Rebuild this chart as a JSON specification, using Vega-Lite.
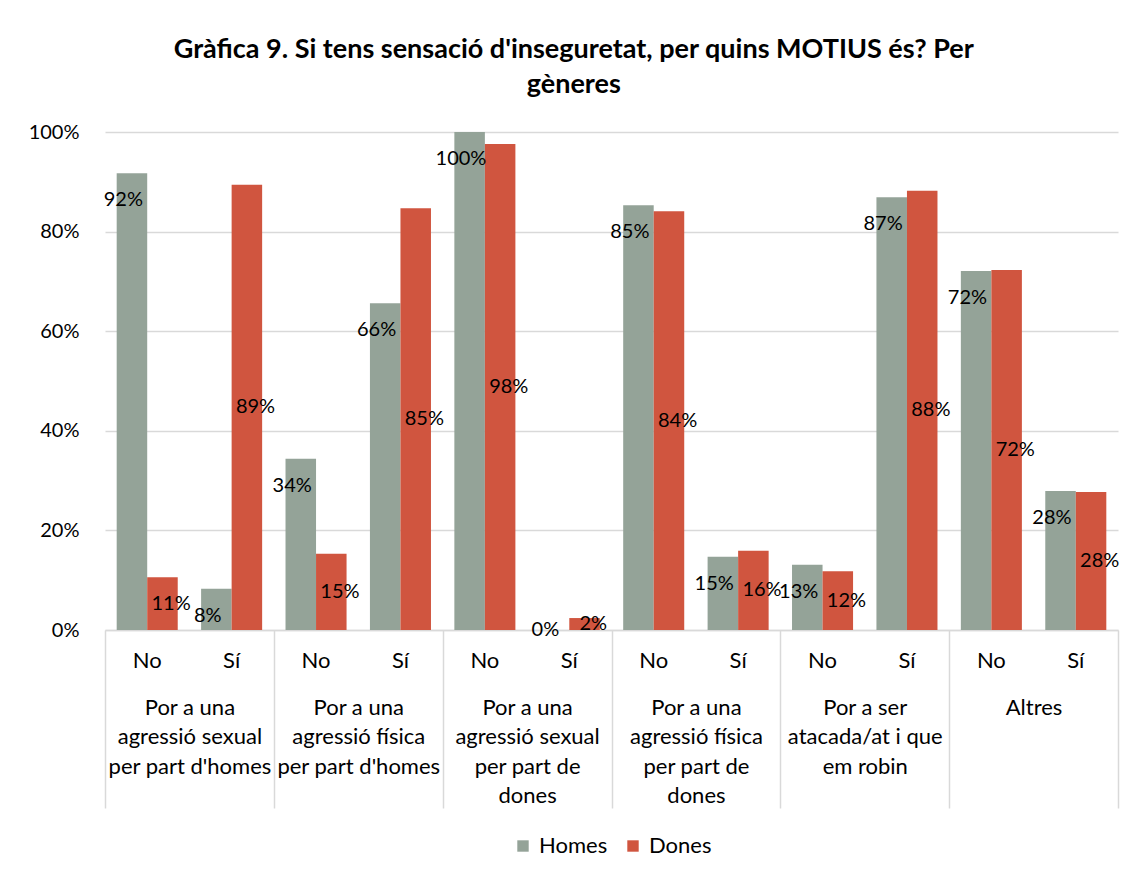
{
  "$schema": "https://vega.github.io/schema/vega-lite/v6.json",
  "width": 1013,
  "height": 498,
  "padding": {"left": 28, "top": 36, "right": 20, "bottom": 10},
  "config": {
    "font": "Lato",
    "view": {"stroke": null},
    "axis": {"labelFont": "Lato", "labelColor": "#000000", "labelFontSize": 22},
    "legend": {"layout": {"bottom": {"anchor": "middle"}}}
  },
  "title": {
    "text": ["Gràfica 9. Si tens sensació d'inseguretat, per quins MOTIUS és? Per", "gèneres"],
    "font": "Lato",
    "fontSize": 27,
    "fontWeight": "bold",
    "color": "#000000",
    "lineHeight": 35,
    "anchor": "middle",
    "frame": "bounds",
    "offset": 23
  },
  "data": {
    "values": [
      {"grup": "Por a una|agressió sexual|per part d'homes", "clau": "1 No", "genere": "Homes", "valor": 0.917},
      {"grup": "Por a una|agressió sexual|per part d'homes", "clau": "1 No", "genere": "Dones", "valor": 0.106},
      {"grup": "Por a una|agressió sexual|per part d'homes", "clau": "1 Sí", "genere": "Homes", "valor": 0.083},
      {"grup": "Por a una|agressió sexual|per part d'homes", "clau": "1 Sí", "genere": "Dones", "valor": 0.894},
      {"grup": "Por a una|agressió física|per part d'homes", "clau": "2 No", "genere": "Homes", "valor": 0.344},
      {"grup": "Por a una|agressió física|per part d'homes", "clau": "2 No", "genere": "Dones", "valor": 0.153},
      {"grup": "Por a una|agressió física|per part d'homes", "clau": "2 Sí", "genere": "Homes", "valor": 0.656},
      {"grup": "Por a una|agressió física|per part d'homes", "clau": "2 Sí", "genere": "Dones", "valor": 0.847},
      {"grup": "Por a una|agressió sexual|per part de|dones", "clau": "3 No", "genere": "Homes", "valor": 1.0},
      {"grup": "Por a una|agressió sexual|per part de|dones", "clau": "3 No", "genere": "Dones", "valor": 0.976},
      {"grup": "Por a una|agressió sexual|per part de|dones", "clau": "3 Sí", "genere": "Homes", "valor": 0.0},
      {"grup": "Por a una|agressió sexual|per part de|dones", "clau": "3 Sí", "genere": "Dones", "valor": 0.024},
      {"grup": "Por a una|agressió física|per part de|dones", "clau": "4 No", "genere": "Homes", "valor": 0.853},
      {"grup": "Por a una|agressió física|per part de|dones", "clau": "4 No", "genere": "Dones", "valor": 0.841},
      {"grup": "Por a una|agressió física|per part de|dones", "clau": "4 Sí", "genere": "Homes", "valor": 0.147},
      {"grup": "Por a una|agressió física|per part de|dones", "clau": "4 Sí", "genere": "Dones", "valor": 0.159},
      {"grup": "Por a ser|atacada/at i que|em robin", "clau": "5 No", "genere": "Homes", "valor": 0.131},
      {"grup": "Por a ser|atacada/at i que|em robin", "clau": "5 No", "genere": "Dones", "valor": 0.118},
      {"grup": "Por a ser|atacada/at i que|em robin", "clau": "5 Sí", "genere": "Homes", "valor": 0.869},
      {"grup": "Por a ser|atacada/at i que|em robin", "clau": "5 Sí", "genere": "Dones", "valor": 0.882},
      {"grup": "Altres", "clau": "6 No", "genere": "Homes", "valor": 0.721},
      {"grup": "Altres", "clau": "6 No", "genere": "Dones", "valor": 0.723},
      {"grup": "Altres", "clau": "6 Sí", "genere": "Homes", "valor": 0.279},
      {"grup": "Altres", "clau": "6 Sí", "genere": "Dones", "valor": 0.277}
    ]
  },
  "layer": [
    {
      "mark": {"type": "bar"},
      "encoding": {
        "x": {
          "field": "clau", "type": "nominal",
          "scale": {"paddingInner": 0, "paddingOuter": 0},
          "axis": {
            "orient": "bottom", "title": null, "labelAngle": 0,
            "labelExpr": "split(datum.label, ' ')[1]",
            "ticks": false, "domain": true, "domainColor": "#d9d9d9", "domainWidth": 1.5,
            "labelPadding": 20, "labelFontSize": 22
          }
        },
        "xOffset": {
          "field": "genere", "type": "nominal",
          "scale": {"domain": ["Homes", "Dones"], "paddingOuter": 0.383, "paddingInner": 0}
        },
        "y": {
          "field": "valor", "type": "quantitative",
          "scale": {"domain": [0, 1], "nice": false},
          "axis": {
            "title": null, "format": ".0%", "values": [0, 0.2, 0.4, 0.6, 0.8, 1],
            "grid": true, "gridColor": "#d9d9d9", "gridWidth": 1.5,
            "domain": false, "ticks": false, "labelPadding": 26, "labelFontSize": 20
          }
        },
        "color": {
          "field": "genere", "type": "nominal",
          "scale": {"domain": ["Homes", "Dones"], "range": ["#94a398", "#d0553f"]},
          "legend": {
            "title": null, "orient": "bottom", "direction": "horizontal",
            "symbolType": "square", "symbolSize": 130, "symbolStrokeWidth": 0,
            "labelFontSize": 22, "labelFont": "Lato", "labelColor": "#000000",
            "columnPadding": 14, "labelOffset": 5, "offset": 26
          }
        }
      }
    },
    {
      "transform": [{"filter": "datum.genere == 'Homes'"}],
      "mark": {"type": "text", "fontSize": 20, "font": "Lato", "color": "#000000", "baseline": "middle"},
      "encoding": {
        "x": {"field": "clau", "type": "nominal", "scale": {"paddingInner": 0, "paddingOuter": 0}, "axis": null},
        "xOffset": {
          "field": "genere", "type": "nominal",
          "scale": {"domain": ["Homes", "Dones"], "paddingOuter": 0.383, "paddingInner": 0}
        },
        "y": {"field": "valor", "type": "quantitative", "scale": {"domain": [0.054, 1.054], "nice": false, "clamp": true}, "axis": null},
        "text": {"field": "valor", "type": "quantitative", "format": ".0%"}
      }
    },
    {
      "transform": [{"filter": "datum.genere == 'Dones'"}],
      "mark": {"type": "text", "fontSize": 20, "font": "Lato", "color": "#000000", "baseline": "middle"},
      "encoding": {
        "x": {"field": "clau", "type": "nominal", "scale": {"paddingInner": 0, "paddingOuter": 0}, "axis": null},
        "xOffset": {
          "field": "genere", "type": "nominal",
          "scale": {"domain": ["Homes", "Dones"], "paddingOuter": 0.383, "paddingInner": 0}
        },
        "y": {"field": "valor", "type": "quantitative", "scale": {"domain": [0, 2], "nice": false}, "axis": null},
        "text": {"field": "valor", "type": "quantitative", "format": ".0%"}
      }
    },
    {
      "mark": {"type": "rule", "strokeOpacity": 0},
      "encoding": {
        "x": {
          "field": "grup", "type": "nominal", "sort": null,
          "scale": {"paddingInner": 0, "paddingOuter": 0},
          "axis": {
            "orient": "bottom", "title": null, "labelAngle": 0, "domain": false,
            "tickBand": "extent", "ticks": true, "tickSize": 178, "tickColor": "#d9d9d9", "tickWidth": 1.5,
            "labelExpr": "split(datum.label, '|')", "labelLineHeight": 29.5,
            "labelBaseline": "top", "labelPadding": -111, "labelFontSize": 22,
            "labelOverlap": false, "labelBound": false, "labelFlush": false, "labelLimit": 0
          }
        }
      }
    }
  ],
  "resolve": {"scale": {"x": "independent", "y": "independent", "xOffset": "independent"}}
}
